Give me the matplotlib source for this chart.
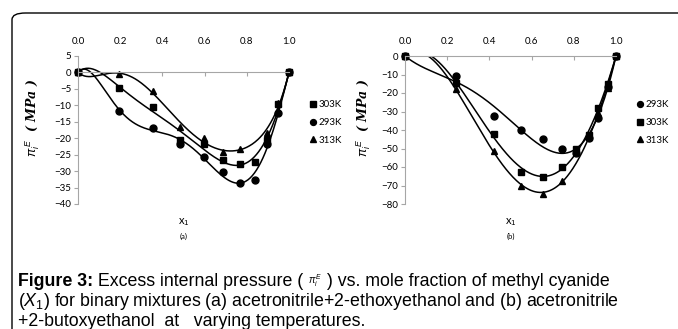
import numpy as np
import matplotlib
matplotlib.use("Agg")
import matplotlib.pyplot as plt
from matplotlib.patches import FancyBboxPatch

plt.rcParams['font.family'] = ['Lato', 'DejaVu Sans']
plt.rcParams['mathtext.fontset'] = 'custom'
plt.rcParams['mathtext.rm'] = 'Liberation Sans'
plt.rcParams['mathtext.it'] = 'Liberation Sans:italic'
plt.rcParams['mathtext.bf'] = 'Liberation Sans:bold'

# panel (a): acetonitrile + 2-ethoxyethanol
xa = [0.0, 0.196, 0.356, 0.484, 0.595, 0.686, 0.766, 0.838, 0.896, 0.947, 1.0]
a_293 = [0.0, -11.6, -16.8, -21.8, -25.8, -30.4, -33.5, -32.6, -21.9, -12.3, 0.0]
a_303 = [0.0, -4.7, -10.5, -20.4, -21.9, -26.6, -27.9, -27.1, -20.4, -9.7, 0.0]
xa_313 = [0.0, 0.196, 0.356, 0.484, 0.595, 0.686, 0.766, 0.896, 0.947, 1.0]
a_313 = [0.0, -0.4, -5.6, -16.7, -19.8, -24.1, -23.3, -18.3, -9.3, 0.0]

# panel (b): acetonitrile + 2-butoxyethanol
xb = [0.0, 0.24, 0.42, 0.55, 0.655, 0.744, 0.81, 0.87, 0.917, 0.96, 1.0]
b_293 = [0.0, -10.9, -32.5, -40.0, -44.8, -50.4, -52.6, -44.1, -33.7, -16.7, 0.0]
b_303 = [0.0, -14.5, -42.0, -62.6, -65.5, -60.0, -50.5, -42.8, -28.2, -14.9, 0.0]
xb_313 = [0.0, 0.24, 0.42, 0.55, 0.655, 0.744, 0.87, 0.917, 0.96, 1.0]
b_313 = [0.0, -18.1, -51.3, -70.0, -74.4, -67.3, -43.6, -31.0, -17.5, 0.0]

xticks = [0.0, 0.2, 0.4, 0.6, 0.8, 1.0]

fig = plt.figure(figsize=(6.78, 3.29), dpi=100)

frame = FancyBboxPatch((12 / 678, -0.1), 1.2, 1.1 - 13 / 329,
                       boxstyle="round,pad=0,rounding_size=0.02",
                       transform=fig.transFigure, fill=False,
                       edgecolor='black', linewidth=1.0, clip_on=True)
fig.patches.append(frame)


def trend(x, y, deg, xs):
    # polynomial trendline constrained to 0 at both ends: x(1-x)*p(x)
    x = np.asarray(x)
    A = np.column_stack([x * (1 - x) * x ** k for k in range(deg + 1)])
    c, *_ = np.linalg.lstsq(A, np.asarray(y), rcond=None)
    B = np.column_stack([xs * (1 - xs) * xs ** k for k in range(deg + 1)])
    return B @ c


def panel(ax, series, deg, ylim, yticks, ylabel_x):
    xs = np.linspace(0, 1, 300)
    for x, y, m, lab in series:
        ax.plot(xs, trend(x, y, deg, xs), color='black', lw=1.1)
        ax.plot(x, y, linestyle='none', marker=m, color='black',
                markersize=5, label=lab, clip_on=False)
    ax.set_xlim(0, 1)
    ax.set_ylim(*ylim)
    ax.set_yticks(yticks)
    ax.set_xticks(xticks)
    ax.set_xticklabels([f"{t:.1f}" for t in xticks])
    for s in ['top', 'right']:
        ax.spines[s].set_visible(False)
    ax.spines['bottom'].set_position(('data', 0))
    ax.spines['bottom'].set_color('#a6a6a6')
    ax.spines['left'].set_color('#a6a6a6')
    ax.tick_params(axis='x', bottom=True, top=False, labelbottom=False,
                   labeltop=True, direction='out', length=3, color='#a6a6a6',
                   labelsize=7, pad=4)
    ax.tick_params(axis='y', direction='out', length=3, color='#a6a6a6',
                   labelsize=7, pad=2)
    ax.set_ylabel(r'$\pi_i^{\,E}$  ( MPa )', family='DejaVu Serif',
                  style='italic', weight='bold', fontsize=9)
    ax.yaxis.set_label_coords(ylabel_x, 0.58)
    ax.set_facecolor('none')


ax1 = fig.add_axes([78 / 678, 1 - 204 / 329, 211 / 678, 148 / 329])
panel(ax1, [(xa, a_303, 's', '303K'), (xa, a_293, 'o', '293K'),
            (xa_313, a_313, '^', '313K')],
      4, (-40, 5), list(range(-40, 6, 5)), -0.17)

ax2 = fig.add_axes([405 / 678, 1 - 204 / 329, 211 / 678, 148 / 329])
panel(ax2, [(xb, b_293, 'o', '293K'), (xb, b_303, 's', '303K'),
            (xb_313, b_313, '^', '313K')],
      2, (-80, 0), list(range(-80, 1, 10)), -0.15)

for ax, tag in [(ax1, '(a)'), (ax2, '(b)')]:
    ax.legend(loc='center left', bbox_to_anchor=(1.07, 0.55), frameon=False,
              fontsize=7, handletextpad=0.1, handlelength=1.0,
              labelspacing=0.9, borderaxespad=0, markerscale=0.85)
    ax.text(0.5, -0.12, r'x$_1$', transform=ax.transAxes, ha='center',
            va='center', fontsize=8)
    ax.text(0.5, -0.22, tag, transform=ax.transAxes, ha='center',
            va='center', fontsize=5.5)

# caption, written as runs of (text, size, weight) per line
cap_size = 12.8
caption = [
    [('Figure 3:', cap_size, 'bold'),
     (' Excess internal pressure ( ', cap_size, 'normal'),
     (r'$\pi_i^E$', 7, 'normal'),
     (' ) vs. mole fraction of methyl cyanide', cap_size, 'normal')],
    [(r'($\mathit{X_1}$) for binary mixtures (a) acetronitrile+2-ethoxyethanol '
      'and (b) acetronitrile', cap_size, 'normal')],
    [('+2-butoxyethanol  at   varying temperatures.', cap_size, 'normal')],
]
renderer = fig.canvas.get_renderer()
for i, runs in enumerate(caption):
    xpos = 18 / 678
    for txt, size, wt in runs:
        t = fig.text(xpos, 1 - (281 + 20 * i) / 329, txt, ha='left',
                     va='center', fontsize=size, weight=wt,
                     family='Liberation Sans')
        xpos = t.get_window_extent(renderer).x1 / fig.bbox.width

fig.savefig('out.png', dpi=100)
